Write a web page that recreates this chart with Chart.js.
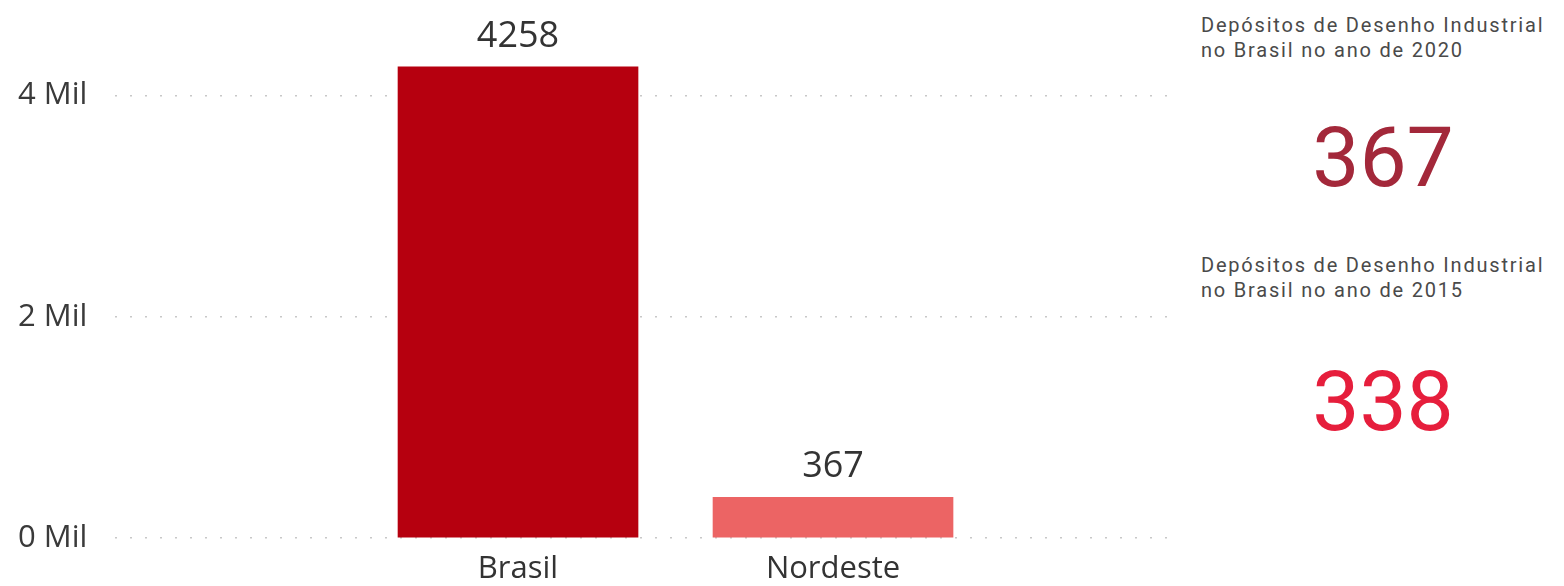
<!DOCTYPE html>
<html>
<head>
<meta charset="utf-8">
<script src="https://cdn.jsdelivr.net/npm/chart.js@4"></script>
<style>
  html, body { margin: 0; padding: 0; background: #fff; width: 1564px; height: 586px; overflow: hidden; }
  #wrap { position: absolute; left: 0; top: 0; width: 1180px; height: 586px; }
  .card-title { position: absolute; left: 1201px; font-family: Roboto, sans-serif; font-size: 20px; line-height: 25px; letter-spacing: 1.8px; color: #4a4a4a; white-space: nowrap; }
  .card-value { position: absolute; left: 1236px; width: 294px; text-align: center; font-family: Roboto, sans-serif; font-size: 84px; line-height: 84px; }
</style>
</head>
<body>
<div id="wrap"><canvas id="c" width="1180" height="586"></canvas></div>
<div class="card-title" id="t1" style="top:13px"></div>
<div class="card-value" id="v1" style="top:116px; color:#A3283A"></div>
<div class="card-title" id="t2" style="top:253px"></div>
<div class="card-value" id="v2" style="top:360px; color:#E61E3C"></div>
<script>
const categories = ['Brasil', 'Nordeste'];
const deposits = [4258, 367];
const barColors = ['#B6000F', '#EC6464'];
const yTicks = [0, 2000, 4000];
const cardTitles = ['Depósitos de Desenho Industrial<br>no Brasil no ano de 2020', 'Depósitos de Desenho Industrial<br>no Brasil no ano de 2015'];
const cardValues = [367, 338];

document.getElementById('t1').innerHTML = cardTitles[0];
document.getElementById('t2').innerHTML = cardTitles[1];
document.getElementById('v1').textContent = cardValues[0];
document.getElementById('v2').textContent = cardValues[1];

const labelPlugin = {
  id: 'barLabels',
  afterDatasetsDraw(chart) {
    const ctx = chart.ctx;
    const meta = chart.getDatasetMeta(0);
    ctx.save();
    ctx.font = '36px "Open Sans", sans-serif';
    ctx.fillStyle = '#333';
    ctx.textAlign = 'center';
    ctx.textBaseline = 'alphabetic';
    meta.data.forEach((bar, i) => {
      ctx.fillText(String(deposits[i]), bar.x, bar.y - 20);
    });
    ctx.restore();
  }
};

new Chart(document.getElementById('c'), {
  type: 'bar',
  data: {
    datasets: [{
      data: categories.map((c, i) => ({ x: i, y: deposits[i] })),
      backgroundColor: barColors,
      barThickness: 240,
      borderWidth: 0
    }]
  },
  options: {
    responsive: false,
    animation: false,
    layout: { padding: { left: 18, right: 10, top: 0, bottom: 0 } },
    plugins: { legend: { display: false }, tooltip: { enabled: false } },
    scales: {
      x: {
        type: 'linear',
        offset: false,
        min: -1.2794,
        max: 2.0698,
        grid: { display: false, drawTicks: false, offset: false },
        border: { display: false },
        afterBuildTicks(scale) { scale.ticks = categories.map((c, i) => ({ value: i })); },
        afterFit(scale) { scale.height = 48; },
        ticks: {
          autoSkip: false,
          padding: 13,
          color: '#333',
          font: { family: 'Open Sans', size: 31 },
          callback: (v) => categories[v] ?? ''
        }
      },
      y: {
        min: 0,
        max: 4667,
        afterBuildTicks(scale) { scale.ticks = yTicks.map(v => ({ value: v })); },
        afterFit(scale) { scale.width = 97; },
        grid: { color: '#c8c8c8', lineWidth: 1.5, drawTicks: false },
        border: { display: false, dash: [2, 13] },
        ticks: {
          crossAlign: 'far',
          color: '#3a3a3a',
          font: { family: 'Open Sans', size: 31 },
          callback: (v) => (v / 1000) + ' Mil'
        }
      }
    }
  },
  plugins: [labelPlugin]
});
</script>
</body>
</html>
